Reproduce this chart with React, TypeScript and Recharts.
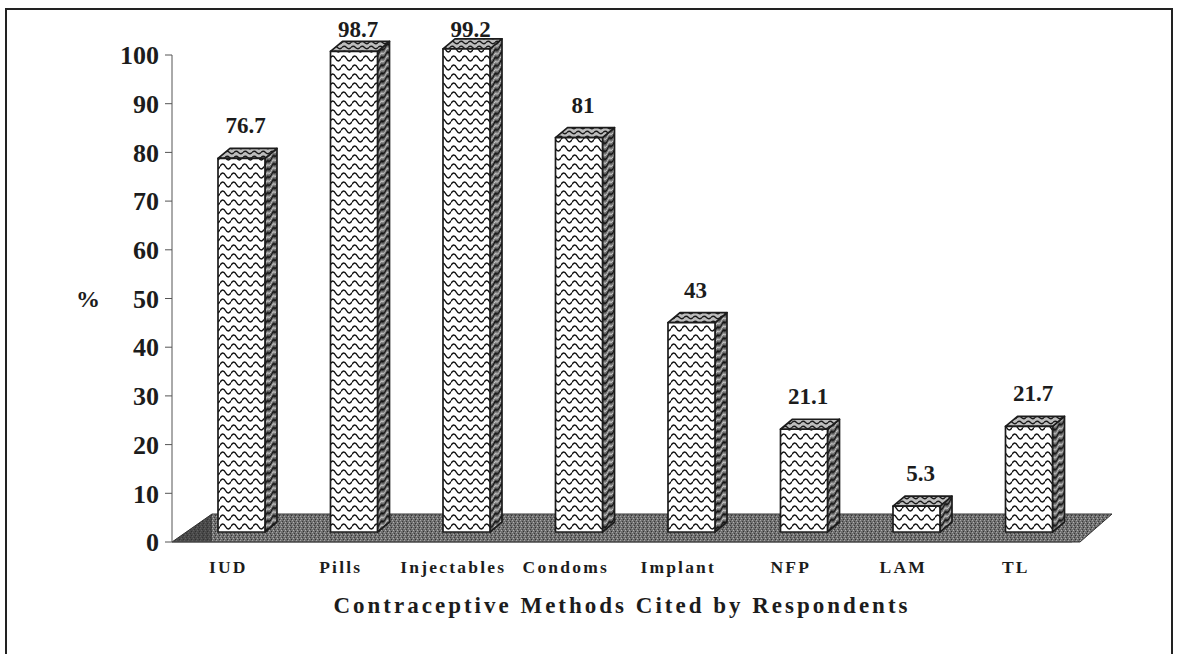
import React from 'react'
import { BarChart, Bar, XAxis, YAxis, ReferenceArea, LabelList } from 'recharts'

const methods = ['IUD', 'Pills', 'Injectables', 'Condoms', 'Implant', 'NFP', 'LAM', 'TL']
const percents = [76.7, 98.7, 99.2, 81, 43, 21.1, 5.3, 21.7]
const yTicks = [0, 10, 20, 30, 40, 50, 60, 70, 80, 90, 100]
const edgeTicks = [0, 1, 2, 3, 4, 5, 6, 7, 8]

const data = methods.map((name, i) => ({ name, value: percents[i] }))

const FONT = '"Liberation Serif", "Times New Roman", serif'
const INK = '#1c1c1c'
// 3d look: front face pushed right and lifted onto the floor
const SHIFT_X = 13
const LIFT = 10
const DEPTH_X = 12
const DEPTH_Y = 10

const Patterns = () => (
  <defs>
    <pattern id="waveFront" patternUnits="userSpaceOnUse" width={11} height={9}>
      <rect width={11} height={9} fill="#fff" />
      <path d="M0 4.5 Q2.75 -0.5 5.5 4.5 Q8.25 9.5 11 4.5" fill="none" stroke="#111" strokeWidth={1.5} />
    </pattern>
    <pattern id="waveTop" patternUnits="userSpaceOnUse" width={9} height={5}>
      <rect width={9} height={5} fill="#bdbdbd" />
      <path d="M0 2.5 Q2.25 0 4.5 2.5 Q6.75 5 9 2.5" fill="none" stroke="#1a1a1a" strokeWidth={1.3} />
    </pattern>
    <pattern id="waveSide" patternUnits="userSpaceOnUse" width={6} height={8} patternTransform="skewY(-40)">
      <rect width={6} height={8} fill="#6f6f6f" />
      <path d="M0 4 L3 1 L6 4" fill="none" stroke="#111" strokeWidth={1.6} />
      <path d="M0 8 L3 5 L6 8" fill="none" stroke="#d0d0d0" strokeWidth={0.9} />
    </pattern>
    <pattern id="floorDots" patternUnits="userSpaceOnUse" width={4} height={4}>
      <rect width={4} height={4} fill="#707070" />
      <rect x={0} y={0} width={1} height={1} fill="#a5a5a5" />
      <rect x={2} y={1} width={1} height={1} fill="#3c3c3c" />
      <rect x={1} y={2} width={1} height={1} fill="#b0b0b0" />
      <rect x={3} y={3} width={1} height={1} fill="#333" />
    </pattern>
  </defs>
)

const Floor = (props: any) => {
  const { x, y, width, height } = props
  const b = y + height
  return (
    <g>
      <Patterns />
      <polygon
        points={`${x},${b} ${x + width + 8},${b} ${x + width + 40},${b - 28} ${x + 40},${b - 28}`}
        fill="url(#floorDots)"
        stroke="#333"
        strokeWidth={1}
      />
      <polygon points={`${x},${b} ${x + 40},${b - 28} ${x + 40},${b}`} fill="#2e2e2e" opacity={0.6} />
    </g>
  )
}

const Box3D = (props: any) => {
  const { x, y, width, height } = props
  if (!height || height <= 0) return null
  const fx = x + SHIFT_X
  const fy = y - LIFT
  const fb = y + height - LIFT
  const r = fx + width
  return (
    <g stroke={INK} strokeWidth={1.7} strokeLinejoin="round">
      <polygon
        points={`${r},${fy} ${r + DEPTH_X},${fy - DEPTH_Y} ${r + DEPTH_X},${fb - DEPTH_Y} ${r},${fb}`}
        fill="url(#waveSide)"
      />
      <polygon
        points={`${fx},${fy} ${fx + DEPTH_X},${fy - DEPTH_Y} ${r + DEPTH_X},${fy - DEPTH_Y} ${r},${fy}`}
        fill="url(#waveTop)"
      />
      <rect x={fx} y={fy} width={width} height={fb - fy} fill="url(#waveFront)" />
    </g>
  )
}

const ValueLabel = (props: any) => {
  const { x, y, width, value } = props
  const cx = x + SHIFT_X + width / 2 + 4
  const base = Math.max(y - LIFT - 25, 37)
  return (
    <text x={cx} y={base} textAnchor="middle" fontFamily={FONT} fontWeight="bold" fontSize={23} fill={INK}>
      {value}
    </text>
  )
}

const MethodTick = (props: any) => {
  const { x, y, payload } = props
  return (
    <text
      x={x}
      y={y}
      dy={12}
      textAnchor="middle"
      fontFamily={FONT}
      fontWeight="bold"
      fontSize={17.5}
      letterSpacing={2.2}
      fill={INK}
    >
      {payload.value}
    </text>
  )
}

const App = () => {
  return (
    <div style={{ position: 'absolute', left: 0, top: 0, width: 1180, height: 654, background: '#fff', overflow: 'hidden' }}>
      <div
        style={{
          position: 'absolute',
          left: 5,
          top: 8,
          width: 1168,
          height: 700,
          border: '2px solid #222',
          boxSizing: 'border-box',
        }}
      />
      <BarChart
        width={1180}
        height={654}
        data={data}
        margin={{ top: 55, right: 108, bottom: 0, left: 0 }}
        barSize={47}
        style={{ position: 'absolute', left: 0, top: 0 }}
      >
        <ReferenceArea y1={0} y2={100} ifOverflow="visible" shape={<Floor />} />
        <XAxis
          xAxisId="edges"
          type="number"
          domain={[0, 8]}
          ticks={edgeTicks}
          tick={false}
          tickSize={7}
          height={0}
          axisLine={false}
          tickLine={{ stroke: '#555' }}
        />
        <XAxis
          dataKey="name"
          height={112}
          interval={0}
          tickLine={false}
          tickSize={0}
          tickMargin={19}
          axisLine={{ stroke: '#555' }}
          tick={<MethodTick />}
          label={{
            content: (p: any) => {
              const vb = p.viewBox
              return (
                <text
                  x={vb.x + vb.width / 2}
                  y={vb.y + 71}
                  textAnchor="middle"
                  fontFamily={FONT}
                  fontWeight="bold"
                  fontSize={23}
                  letterSpacing={3}
                  fill={INK}
                >
                  Contraceptive Methods Cited by Respondents
                </text>
              )
            },
          }}
        />
        <YAxis
          width={172}
          domain={[0, 100]}
          ticks={yTicks}
          interval={0}
          tickSize={7}
          tickMargin={6}
          axisLine={{ stroke: '#555' }}
          tickLine={{ stroke: '#555' }}
          tick={{ fontFamily: FONT, fontSize: 26, fontWeight: 'bold', fill: INK }}
          label={{
            content: (p: any) => {
              const vb = p.viewBox
              return (
                <text
                  x={vb.x + 88}
                  y={vb.y + vb.height / 2 + 8}
                  textAnchor="middle"
                  fontFamily={FONT}
                  fontWeight="bold"
                  fontSize={24}
                  fill={INK}
                >
                  %
                </text>
              )
            },
          }}
        />
        <Bar dataKey="value" shape={<Box3D />} isAnimationActive={false}>
          <LabelList dataKey="value" content={<ValueLabel />} />
        </Bar>
      </BarChart>
    </div>
  )
}

export default App
